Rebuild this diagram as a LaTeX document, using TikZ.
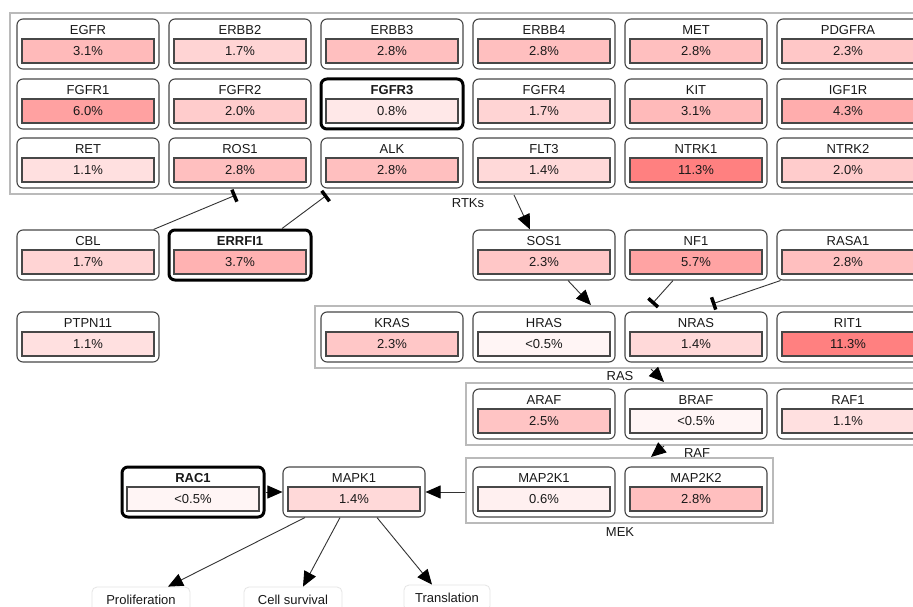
\documentclass[tikz,border=0pt]{standalone}
\usepackage{fontspec}
\setmainfont{Liberation Sans}
\usetikzlibrary{arrows.meta,calc}
\newcommand\genefont{\fontsize{13}{15}\selectfont}
\tikzset{
  card/.style={draw=black!72, line width=1.1pt, rounded corners=6pt, fill=white,
    minimum width=142pt, minimum height=50pt, inner sep=0pt},
  hicard/.style={draw=black, line width=3pt},
  valbar/.style={draw=black!72, line width=1.1pt, minimum width=132pt,
    minimum height=24pt, inner sep=0pt, font=\genefont, text=black!90},
  gname/.style={inner sep=0pt, font=\genefont, text=black!90},
  grp/.style={draw=black!27, line width=2pt, inner sep=0pt},
  grplabel/.style={inner sep=0pt, font=\genefont, text=black!90},
  act/.style={draw=black!80, line width=0.9pt, -{Triangle[length=15pt,width=13pt,color=black]}},
  inh/.style={draw=black!80, line width=0.9pt, -{Bar[width=13pt,line width=3.5pt,color=black]}},
  outbox/.style={draw=black!10, line width=0.8pt, rounded corners=5pt,
    minimum height=26pt, inner sep=0pt, font=\genefont, text=black!90}
}
% #1 id, #2 x, #3 y (top-left), #4 name, #5 value, #6 red percent, #7 extra style
\newcommand\genecard[7]{%
  \node[card,#7] (#1) at ({#2+71},{#3+25}) {};
  \node[gname] (#1-n) at ({#2+71},{#3+11}) {#4};
  \node[valbar, fill=red!#6] (#1-v) at ({#2+71},{#3+32}) {#5};
}
\begin{document}
\begin{tikzpicture}[x=1pt,y=-1pt]
\clip (0,0) rectangle (913,607);
\fill[white] (0,0) rectangle (913,607);

% group boxes
\node[grp, minimum width=916pt, minimum height=181pt] (rtk) at (468,103.5) {};
\node[grplabel] (rtk-l) at (468,203) {RTKs};
\node[grp, minimum width=611pt, minimum height=62pt] (ras) at (620.5,337) {};
\node[grplabel] (ras-l) at (620,376) {RAS};
\node[grp, minimum width=460pt, minimum height=62pt] (raf) at (696,414) {};
\node[grplabel] (raf-l) at (697,453) {RAF};
\node[grp, minimum width=307pt, minimum height=65pt] (mek) at (619.5,490.5) {};
\node[grplabel] (mek-l) at (620,532) {MEK};

% RTK grid
\genecard{egfr}{17}{19}{EGFR}{3.1\%}{27}{}
\genecard{erbb2}{169}{19}{ERBB2}{1.7\%}{17}{}
\genecard{erbb3}{321}{19}{ERBB3}{2.8\%}{25}{}
\genecard{erbb4}{473}{19}{ERBB4}{2.8\%}{25}{}
\genecard{met}{625}{19}{MET}{2.8\%}{25}{}
\genecard{pdgfra}{777}{19}{PDGFRA}{2.3\%}{22}{}
\genecard{fgfr1}{17}{79}{FGFR1}{6.0\%}{37}{}
\genecard{fgfr2}{169}{79}{FGFR2}{2.0\%}{20}{}
\genecard{fgfr3}{321}{79}{\textbf{FGFR3}}{0.8\%}{9}{hicard}
\genecard{fgfr4}{473}{79}{FGFR4}{1.7\%}{17}{}
\genecard{kit}{625}{79}{KIT}{3.1\%}{27}{}
\genecard{igf1r}{777}{79}{IGF1R}{4.3\%}{32}{}
\genecard{ret}{17}{138}{RET}{1.1\%}{12}{}
\genecard{ros1}{169}{138}{ROS1}{2.8\%}{25}{}
\genecard{alk}{321}{138}{ALK}{2.8\%}{25}{}
\genecard{flt3}{473}{138}{FLT3}{1.4\%}{15}{}
\genecard{ntrk1}{625}{138}{NTRK1}{11.3\%}{50}{}
\genecard{ntrk2}{777}{138}{NTRK2}{2.0\%}{20}{}

% regulators
\genecard{cbl}{17}{230}{CBL}{1.7\%}{17}{}
\genecard{errfi1}{169}{230}{\textbf{ERRFI1}}{3.7\%}{30}{hicard}
\genecard{ptpn11}{17}{312}{PTPN11}{1.1\%}{12}{}
\genecard{sos1}{473}{230}{SOS1}{2.3\%}{22}{}
\genecard{nf1}{625}{230}{NF1}{5.7\%}{36}{}
\genecard{rasa1}{777}{230}{RASA1}{2.8\%}{25}{}

% RAS
\genecard{kras}{321}{312}{KRAS}{2.3\%}{22}{}
\genecard{hras}{473}{312}{HRAS}{<0.5\%}{4}{}
\genecard{nras}{625}{312}{NRAS}{1.4\%}{15}{}
\genecard{rit1}{777}{312}{RIT1}{11.3\%}{50}{}

% RAF
\genecard{araf}{473}{389}{ARAF}{2.5\%}{23}{}
\genecard{braf}{625}{389}{BRAF}{<0.5\%}{4}{}
\genecard{raf1}{777}{389}{RAF1}{1.1\%}{12}{}

% MEK
\genecard{map2k1}{473}{467}{MAP2K1}{0.6\%}{6}{}
\genecard{map2k2}{625}{467}{MAP2K2}{2.8\%}{25}{}

% MAPK1 and RAC1
\genecard{mapk1}{283}{467}{MAPK1}{1.4\%}{15}{}
\genecard{rac1}{122}{467}{\textbf{RAC1}}{<0.5\%}{4}{hicard}

% outputs
\node[outbox, minimum width=98pt] (prolif) at (141,600) {Proliferation};
\node[outbox, minimum width=98pt] (cellsurv) at (293,600) {Cell survival};
\node[outbox, minimum width=86pt] (transl) at (447,598) {Translation};

% connectors
\draw[inh] ($(cbl.north east)+(-6,0)$) -- ($(rtk.south west)+(227,0)$);
\draw[inh] ($(errfi1.north)+(42,0)$) -- ($(rtk.south west)+(318,0)$);
\draw[act] ($(rtk.south west)+(505,0)$) -- ($(sos1.north)+(-14,0)$);
\draw[act] ($(sos1.south)+(24,0)$) -- ($(ras.north west)+(277,0)$);
\draw[inh] ($(nf1.south)+(-23,0)$) -- ($(ras.north west)+(338,-1)$);
\draw[inh] ($(rasa1.south west)+(4,0)$) -- ($(ras.north west)+(398,-1)$);
\draw[act] ($(ras.south west)+(337,0)$) -- ($(raf.north west)+(199,0)$);
\draw[act] ($(raf.south west)+(199,0)$) -- ($(mek.north west)+(186,0)$);
\draw[act] (mek.west |- mapk1.east) -- (mapk1.east);
\draw[act] (rac1.east) -- (mapk1.west);
\draw[act] ($(mapk1.south)+(-49,0)$) -- ($(prolif.north)+(27,0)$);
\draw[act] ($(mapk1.south)+(-14,0)$) -- ($(cellsurv.north)+(10,0)$);
\draw[act] ($(mapk1.south)+(23,0)$) -- ($(transl.north)+(-15,0)$);
\end{tikzpicture}
\end{document}
